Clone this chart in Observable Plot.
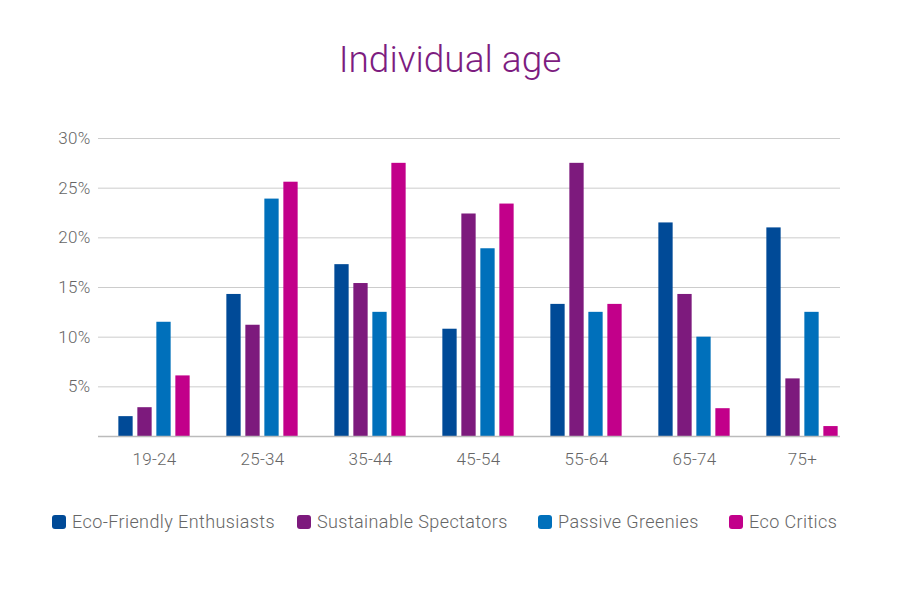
<!DOCTYPE html>
<html>
<head>
<meta charset="utf-8">
<script src="https://cdn.jsdelivr.net/npm/d3@7"></script>
<script src="https://cdn.jsdelivr.net/npm/@observablehq/plot@0.6"></script>
<style>
  html, body { margin: 0; padding: 0; background: #fff; }
  body { width: 900px; height: 600px; font-family: Roboto, sans-serif; }
  #title { height: 100px; box-sizing: border-box; padding-top: 38px; text-align: center; font-size: 37px; font-weight: 300; color: #7D1C80; line-height: 44px; }
  #chart svg { display: block; }
  #legend { position: relative; height: 24px; margin-top: 31px; font-size: 18px; letter-spacing: 0.4px; font-weight: 300; color: #666; }
  .item { position: absolute; top: 0; display: flex; align-items: center; }
  .sw { width: 14px; height: 14px; border-radius: 3px; margin-right: 6px; }
</style>
</head>
<body>
<div id="title">Individual age</div>
<div id="chart"></div>
<div id="legend"></div>
<script>
const ages = ["19-24", "25-34", "35-44", "45-54", "55-64", "65-74", "75+"];
const series = ["Eco-Friendly Enthusiasts", "Sustainable Spectators", "Passive Greenies", "Eco Critics"];
const colors = ["#004A97", "#7D1A7D", "#0070BB", "#C2008A"];
const ecoFriendly = [2.0, 14.3, 17.3, 10.8, 13.3, 21.5, 21.0];
const sustainable = [2.9, 11.2, 15.4, 22.4, 27.5, 14.3, 5.8];
const passive = [11.5, 23.9, 12.5, 18.9, 12.5, 10.0, 12.5];
const critics = [6.1, 25.6, 27.5, 23.4, 13.3, 2.8, 1.0];
const yTicks = [5, 10, 15, 20, 25, 30];

const valuesBySeries = [ecoFriendly, sustainable, passive, critics];
const data = [];
ages.forEach((a, i) => series.forEach((s, j) => data.push({age: a, series: s, value: valuesBySeries[j][i]})));

// bar layout inside each age band (pixels)
const band = 108.5, barW = 14.8, stride = 19;
const groupW = stride * 3 + barW;
const barMarks = series.map((s, j) => {
  const left = (band - groupW) / 2 + stride * j;
  return Plot.barY(data.filter(d => d.series === s), {
    x: "age", y: "value", fill: colors[j],
    insetLeft: left, insetRight: band - left - barW
  });
});

const chart = Plot.plot({
  width: 900,
  height: 380,
  marginLeft: 98,
  marginRight: 60,
  marginTop: 38,
  marginBottom: 44,
  style: {fontFamily: "Roboto, sans-serif", fontSize: "17px", color: "#666", fontWeight: 300, background: "#fff", letterSpacing: "0.3px"},
  x: {domain: ages, range: [98, 98 + band * 7], padding: 0, label: null, tickSize: 0, tickPadding: 16},
  y: {domain: [0, 30], ticks: yTicks, tickFormat: d => d + "%", tickSize: 0, tickPadding: 8, label: null},
  marks: [
    Plot.ruleY(yTicks, {stroke: "#ccc", strokeWidth: 1}),
    ...barMarks,
    Plot.ruleY([0], {stroke: "#bbb", strokeWidth: 1.5})
  ]
});
document.getElementById("chart").appendChild(chart);

const legend = document.getElementById("legend");
const legendX = [52, 297, 538, 729];
series.forEach((s, i) => {
  const it = document.createElement("div");
  it.className = "item";
  it.style.left = legendX[i] + "px";
  it.innerHTML = `<div class="sw" style="background:${colors[i]}"></div><span>${s}</span>`;
  legend.appendChild(it);
});
</script>
</body>
</html>
